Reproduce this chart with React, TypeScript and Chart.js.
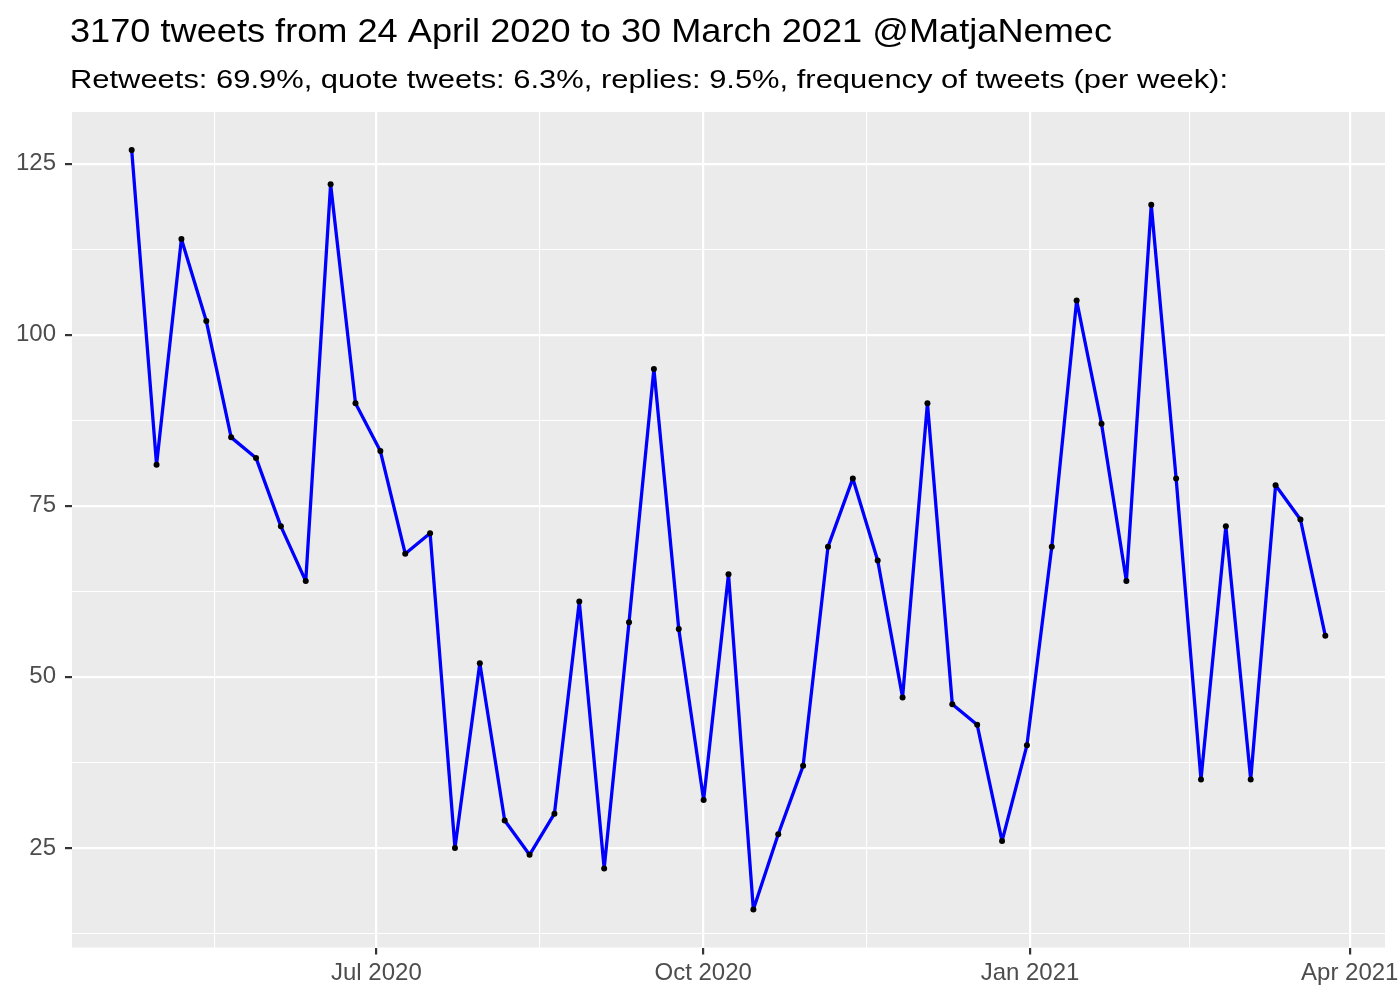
import React, { useEffect, useRef } from "react";
import { Chart, registerables } from "chart.js";

Chart.register(...registerables);

const titleText = "3170 tweets from 24 April 2020 to 30 March 2021 @MatjaNemec";
const subtitleText =
  "Retweets: 69.9%, quote tweets: 6.3%, replies: 9.5%, frequency of tweets (per week):";

const weeks = [
  "2020-04-23T03:00Z", "2020-04-30T03:00Z", "2020-05-07T03:00Z", "2020-05-14T03:00Z",
  "2020-05-21T03:00Z", "2020-05-28T03:00Z", "2020-06-04T03:00Z", "2020-06-11T03:00Z",
  "2020-06-18T03:00Z", "2020-06-25T03:00Z", "2020-07-02T03:00Z", "2020-07-09T03:00Z",
  "2020-07-16T03:00Z", "2020-07-23T03:00Z", "2020-07-30T03:00Z", "2020-08-06T03:00Z",
  "2020-08-13T03:00Z", "2020-08-20T03:00Z", "2020-08-27T03:00Z", "2020-09-03T03:00Z",
  "2020-09-10T03:00Z", "2020-09-17T03:00Z", "2020-09-24T03:00Z", "2020-10-01T03:00Z",
  "2020-10-08T03:00Z", "2020-10-15T03:00Z", "2020-10-22T03:00Z", "2020-10-29T03:00Z",
  "2020-11-05T03:00Z", "2020-11-12T03:00Z", "2020-11-19T03:00Z", "2020-11-26T03:00Z",
  "2020-12-03T03:00Z", "2020-12-10T03:00Z", "2020-12-17T03:00Z", "2020-12-24T03:00Z",
  "2020-12-31T03:00Z", "2021-01-07T03:00Z", "2021-01-14T03:00Z", "2021-01-21T03:00Z",
  "2021-01-28T03:00Z", "2021-02-04T03:00Z", "2021-02-11T03:00Z", "2021-02-18T03:00Z",
  "2021-02-25T03:00Z", "2021-03-04T03:00Z", "2021-03-11T03:00Z", "2021-03-18T03:00Z",
  "2021-03-25T03:00Z",
];

const tweetCounts = [
  127, 81, 114, 102, 85, 82, 72, 64, 122, 90, 83, 68, 71, 25, 52, 29, 24, 30, 61, 22,
  58, 95, 57, 32, 65, 16, 27, 37, 69, 79, 67, 47, 90, 46, 43, 26, 40, 69, 105, 87,
  64, 119, 79, 35, 72, 35, 78, 73, 56,
];

const xMajorTicks = ["2020-07-01T00:00Z", "2020-10-01T00:00Z", "2021-01-01T00:00Z", "2021-04-01T00:00Z"];
const xMajorLabels = ["Jul 2020", "Oct 2020", "Jan 2021", "Apr 2021"];
const xMinorTicks = ["2020-05-16T12:00Z", "2020-08-16T00:00Z", "2020-11-16T00:00Z", "2021-02-15T00:00Z"];

const yMajorTicks = [25, 50, 75, 100, 125];
const yMinorTicks = [12.5, 37.5, 62.5, 87.5, 112.5];

const FONT = "'Liberation Sans', Arial, Helvetica, sans-serif";

export default function App() {
  const ref = useRef<HTMLCanvasElement>(null);

  useEffect(() => {
    if (!ref.current) return;
    const xs = weeks.map((d) => Date.parse(d));
    const xSpan = xs[xs.length - 1] - xs[0];
    const xMin = xs[0] - 0.05 * xSpan;
    const xMax = xs[xs.length - 1] + 0.05 * xSpan;
    const yLo = Math.min(...tweetCounts);
    const yHi = Math.max(...tweetCounts);
    const ySpan = yHi - yLo;
    const yMin = yLo - 0.05 * ySpan;
    const yMax = yHi + 0.05 * ySpan;

    const majorX = xMajorTicks.map((d) => Date.parse(d));
    const minorX = xMinorTicks.map((d) => Date.parse(d));
    const xLabelMap = new Map<number, string>();
    majorX.forEach((v, i) => xLabelMap.set(v, xMajorLabels[i]));
    const isMajorX = (v: any) => xLabelMap.has(v);
    const isMajorY = (v: any) => yMajorTicks.includes(v);

    const bgPlugin = {
      id: "panelBg",
      beforeDraw(chart: any) {
        const { ctx, chartArea } = chart;
        ctx.save();
        ctx.fillStyle = "#FFFFFF";
        ctx.fillRect(0, 0, chart.width, chart.height);
        ctx.fillStyle = "#EBEBEB";
        ctx.fillRect(chartArea.left, chartArea.top, chartArea.right - chartArea.left, chartArea.bottom - chartArea.top);
        ctx.restore();
      },
    };

    const drawStretched = (ctx: any, text: string, font: string, x: number, y: number, targetW: number) => {
      ctx.save();
      ctx.font = font;
      const w = ctx.measureText(text).width;
      ctx.translate(x, y);
      ctx.scale(targetW / w, 1);
      ctx.fillText(text, 0, 0);
      ctx.restore();
    };

    const titlePlugin = {
      id: "ggTitles",
      afterDraw(chart: any) {
        const { ctx } = chart;
        ctx.save();
        ctx.fillStyle = "#000000";
        ctx.textAlign = "left";
        ctx.textBaseline = "alphabetic";
        drawStretched(ctx, titleText, `33px ${FONT}`, 70, 42, 1042);
        drawStretched(ctx, subtitleText, `26px ${FONT}`, 70, 88, 1158);
        ctx.restore();
      },
    };

    const chart = new Chart(ref.current, {
      type: "line",
      data: {
        datasets: [
          {
            data: xs.map((x, i) => ({ x, y: tweetCounts[i] })),
            borderColor: "#0000FF",
            borderWidth: 3.3,
            borderJoinStyle: "round",
            borderCapStyle: "round",
            pointRadius: 3,
            pointBackgroundColor: "#000000",
            pointBorderColor: "#000000",
            pointBorderWidth: 0,
            pointHoverRadius: 0,
            tension: 0,
            fill: false,
          },
        ],
      },
      options: {
        responsive: false,
        animation: false,
        events: [],
        layout: { padding: { top: 112, right: 15, left: 0, bottom: 0 } },
        plugins: {
          legend: { display: false },
          tooltip: { enabled: false },
          title: { display: false },
        },
        scales: {
          x: {
            type: "linear",
            min: xMin,
            max: xMax,
            afterBuildTicks: (s: any) => {
              s.ticks = [...majorX, ...minorX].sort((a, b) => a - b).map((v) => ({ value: v }));
            },
            afterFit: (s: any) => {
              s.height = 52.5;
              s.paddingLeft = 0;
              s.paddingRight = 0;
            },
            border: { display: false },
            grid: {
              color: "#FFFFFF",
              lineWidth: (c: any) => (c.tick && isMajorX(c.tick.value) ? 2.2 : 1.1),
              tickColor: (c: any) => (c.tick && isMajorX(c.tick.value) ? "#333333" : "rgba(0,0,0,0)"),
              tickWidth: 2.2,
              tickLength: 7,
              drawTicks: true,
            },
            ticks: {
              autoSkip: false,
              maxRotation: 0,
              minRotation: 0,
              padding: 4,
              color: "#4D4D4D",
              font: { family: FONT, size: 24 },
              callback: (v: any) => xLabelMap.get(v) ?? "",
            },
          },
          y: {
            type: "linear",
            min: yMin,
            max: yMax,
            afterBuildTicks: (s: any) => {
              s.ticks = [...yMajorTicks, ...yMinorTicks].sort((a, b) => a - b).map((v) => ({ value: v }));
            },
            afterFit: (s: any) => {
              s.width = 72;
              s.paddingTop = 0;
              s.paddingBottom = 0;
            },
            border: { display: false },
            grid: {
              color: "#FFFFFF",
              lineWidth: (c: any) => (c.tick && isMajorY(c.tick.value) ? 2.2 : 1.1),
              tickColor: (c: any) => (c.tick && isMajorY(c.tick.value) ? "#333333" : "rgba(0,0,0,0)"),
              tickWidth: 2.2,
              tickLength: 7,
              drawTicks: true,
            },
            ticks: {
              autoSkip: false,
              padding: 9,
              color: "#4D4D4D",
              font: { family: FONT, size: 24 },
              callback: (v: any) => (isMajorY(v) ? String(v) : ""),
            },
          },
        },
      },
      plugins: [bgPlugin, titlePlugin],
    } as any);

    return () => chart.destroy();
  }, []);

  return (
    <canvas
      ref={ref}
      width={1400}
      height={1000}
      style={{ position: "absolute", left: 0, top: 0, width: 1400, height: 1000 }}
    />
  );
}
